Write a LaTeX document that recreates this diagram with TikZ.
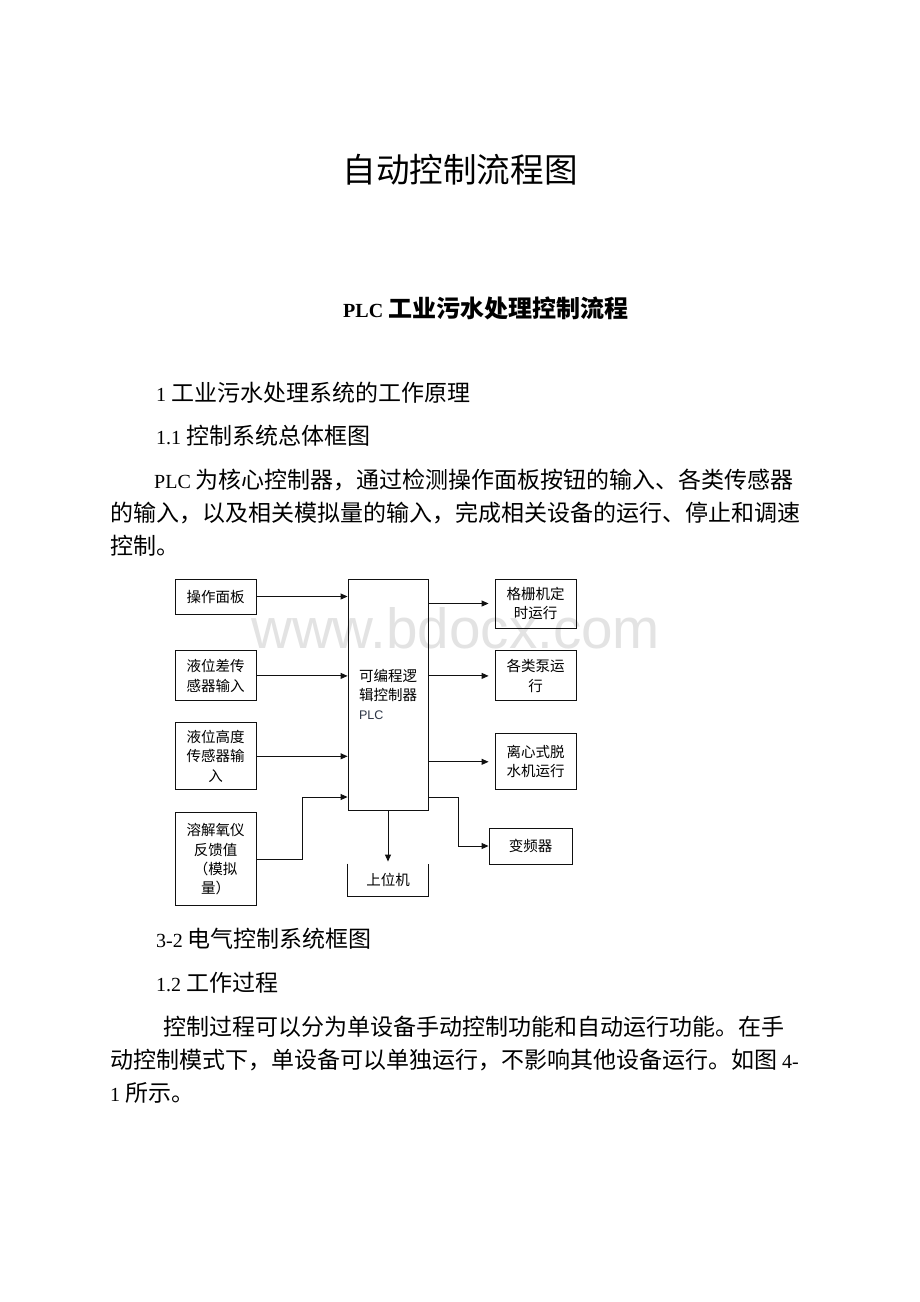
\documentclass[tikz,border=0pt]{standalone}
\usepackage{fontspec}
\setmainfont{Liberation Serif}
\newfontfamily\cjk{Noto Sans CJK SC}
\newfontfamily\latsans{Liberation Sans}
\usepackage{xcolor}
\usepackage{tikz}
\usetikzlibrary{arrows.meta,positioning}
\XeTeXlinebreaklocale "zh"
\XeTeXlinebreakskip=0pt plus 2pt
\definecolor{Ink}{HTML}{111111}
\definecolor{Wmark}{HTML}{E3E3E3}
\definecolor{PlcInk}{HTML}{2B3445}
\newcommand{\lat}[1]{{\rmfamily\fontsize{20}{24}\selectfont #1}}
\tikzset{
  blk/.style={
    draw=Ink, line width=.9pt, align=center, inner sep=0pt,
    minimum width=81pt, font=\cjk\fontsize{14.5}{19.3}\selectfont
  },
  arr/.style={-{Triangle[length=7pt,width=6pt]},line width=.9pt,draw=Ink},
  wire/.style={line width=.9pt,draw=Ink},
  body/.style={anchor=west,inner sep=0pt,font=\cjk\fontsize{23}{28}\selectfont},
  ttl/.style={inner sep=0pt,font=\cjk\fontsize{33.6}{40}\selectfont}
}

\begin{document}
\begin{tikzpicture}[x=1pt,y=-1pt]
  \fill[white] (0,0) rectangle (920,1302);
  \useasboundingbox (0,0) rectangle (920,1302);
  % watermark
  \node[anchor=base west,inner sep=0pt,text=Wmark,font=\latsans\fontsize{56.6}{60}\selectfont] (mark) at (251,648) {www.bdocx.com};
  % page text
  \node[ttl] (title) at (460,170) {自动控制流程图};
  \node[anchor=west,inner sep=0pt,font=\cjk\bfseries\fontsize{24}{28}\selectfont] (subtitle) at (343,308) {{\rmfamily\bfseries\fontsize{20}{24}\selectfont PLC}\hspace{5pt}工业污水处理控制流程};
  \node[body] (sec1) at (156,393) {\lat{1}\hspace{5pt}工业污水处理系统的工作原理};
  \node[body] (sec11) at (156,436) {\lat{1.1}\hspace{5pt}控制系统总体框图};
  \node[body] (paraA1) at (154,480) {\makebox[654pt][s]{\lat{PLC}\hspace{5pt}为核心控制器，通过检测操作面板按钮的输入、各类传感器}};
  \node[body] (paraA2) at (110,513) {\makebox[698pt][s]{的输入，以及相关模拟量的输入，完成相关设备的运行、停止和调速}};
  \node[body] (paraA3) at (110,546) {控制。};
  \node[body] (cap32) at (156,939) {\lat{3-2}\hspace{5pt}电气控制系统框图};
  \node[body] (sec12) at (156,983) {\lat{1.2}\hspace{5pt}工作过程};
  \node[body] (paraB1) at (163,1027) {\makebox[627pt][s]{控制过程可以分为单设备手动控制功能和自动运行功能。在手}};
  \node[body] (paraB2) at (110,1060) {\makebox[698pt][s]{动控制模式下，单设备可以单独运行，不影响其他设备运行。如图\hspace{5pt}\lat{4-}}};
  \node[body] (paraB3) at (110,1093) {\lat{1}\hspace{5pt}所示。};
  % block diagram
  \node[blk,minimum width=80pt,minimum height=231pt,align=left] (plc) at (388,694.5) {可编程逻\\辑控制器\\{\color{PlcInk}\latsans\fontsize{12.5}{19}\selectfont PLC}};
  \node[blk,minimum height=35pt] (panel) at (215.5,596.5) {操作面板};
  \node[blk,minimum height=50pt,below=36pt of panel] (diff) {液位差传\\感器输入};
  \node[blk,minimum height=67pt,below=21pt of diff] (level) {液位高度\\传感器输\\入};
  \node[blk,minimum height=93pt,below=22pt of level] (oxy) {溶解氧仪\\反馈值\\（模拟\\量）};
  \node[blk,minimum height=49pt] (grid) at (535.5,603.5) {格栅机定\\时运行};
  \node[blk,minimum height=50pt,below=22pt of grid] (pump) {各类泵运\\行};
  \node[blk,minimum height=56pt,below=32pt of pump] (dewater) {离心式脱\\水机运行};
  \node[blk,minimum width=83pt,minimum height=36pt] (vfd) at (530.5,846) {变频器};
  \node[blk,draw=none,minimum width=80pt,minimum height=32pt] (host) at (388,880) {上位机};
  \draw[wire] (host.north west) -- (host.south west) -- (host.south east) -- (host.north east);
  \coordinate (oxyup) at (302,797);
  \coordinate (vfdturn) at (458,797);
  \draw[arr] (panel.east) -- (panel.east -| plc.west);
  \draw[arr] (diff.east) -- (diff.east -| plc.west);
  \draw[arr] (level.east) -- (level.east -| plc.west);
  \draw[arr] (oxy.east) -| (oxyup) -- (oxyup -| plc.west);
  \draw[arr,shorten >=6pt] (plc.east |- grid.west) -- (grid.west);
  \draw[arr,shorten >=6pt] (plc.east |- pump.west) -- (pump.west);
  \draw[arr,shorten >=6pt] (plc.east |- dewater.west) -- (dewater.west);
  \draw[arr] (vfdturn -| plc.east) -- (vfdturn) |- (vfd.west);
  \draw[arr,shorten >=2pt] (plc.south) -- (host.north);
\end{tikzpicture}
\end{document}
